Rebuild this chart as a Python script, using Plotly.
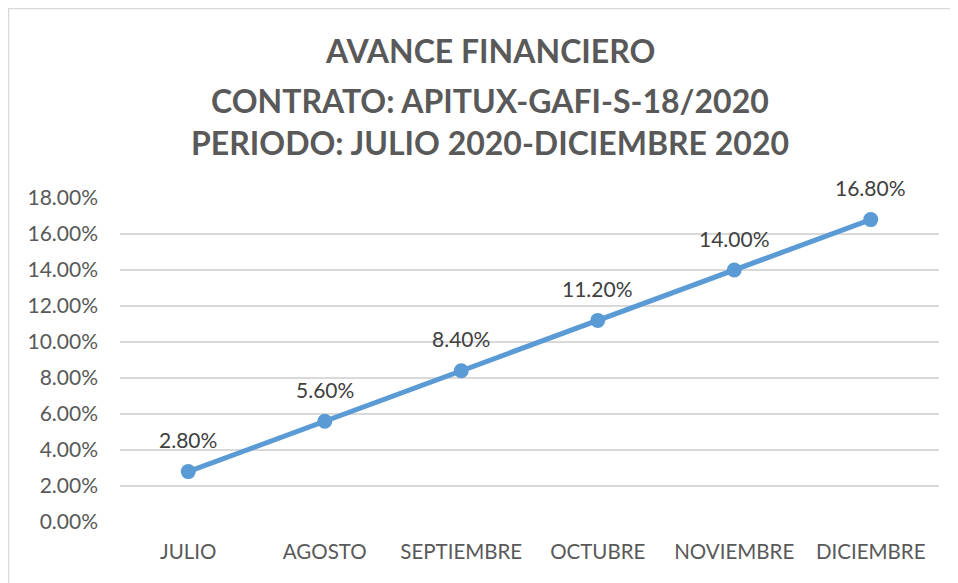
import plotly.graph_objects as go

months = ["JULIO", "AGOSTO", "SEPTIEMBRE", "OCTUBRE", "NOVIEMBRE", "DICIEMBRE"]
avance = [0.028, 0.056, 0.084, 0.112, 0.140, 0.168]
labels = ["2.80%", "5.60%", "8.40%", "11.20%", "14.00%", "16.80%"]
title_lines = ["AVANCE FINANCIERO", "CONTRATO: APITUX-GAFI-S-18/2020", "PERIODO: JULIO 2020-DICIEMBRE 2020"]
y_ticks = [i * 0.02 for i in range(10)]

FONT = "Lato"
W, H = 950, 575
ML, MR, MT, MB = 112, 19, 190, 61
plot_h = H - MT - MB
plot_w = W - ML - MR

fig = go.Figure()
fig.add_trace(go.Scatter(
    x=months, y=avance, mode="lines+markers",
    line=dict(color="#5B9BD5", width=5),
    marker=dict(color="#5B9BD5", size=15),
    hoverinfo="skip", showlegend=False,
))

annotations = []
for m, v, t in zip(months, avance, labels):
    annotations.append(dict(x=m, y=v, xref="x", yref="y", text=t, showarrow=False,
                            yshift=32, font=dict(family=FONT, size=21, color="#404040")))
title_pix = [42, 92, 135]
for line, py in zip(title_lines, title_pix):
    annotations.append(dict(x=(490 - 8 - ML) / plot_w, xref="paper", y=(H - MB - py) / plot_h, yref="paper",
                            yanchor="middle", text="<b>" + line + "</b>", showarrow=False,
                            font=dict(family=FONT, size=32, color="#595959")))

fig.update_layout(
    width=W, height=H,
    margin=dict(l=ML, r=MR, t=MT, b=MB),
    paper_bgcolor="white", plot_bgcolor="white",
    annotations=annotations,
    xaxis=dict(showgrid=False, showline=False, zeroline=False, ticks="",
               tickfont=dict(family=FONT, size=20.5, color="#595959"),
               ticklabelstandoff=15, range=[-0.5, 5.5]),
    yaxis=dict(range=[0, 0.18], tickvals=y_ticks, tickformat=".2%",
               showgrid=True, gridcolor="#D9D9D9", gridwidth=1.5, zeroline=False,
               showline=False, ticks="", ticklabelstandoff=21,
               tickfont=dict(family=FONT, size=21, color="#595959")),
    shapes=[dict(type="rect", xref="paper", yref="paper",
                 x0=(0.5 - ML) / plot_w, x1=1.2,
                 y0=-0.5, y1=(H - MB - 0.5) / plot_h,
                 line=dict(color="#D9D9D9", width=1.5), fillcolor="rgba(0,0,0,0)", layer="below")],
)

fig.write_html("out.html")
